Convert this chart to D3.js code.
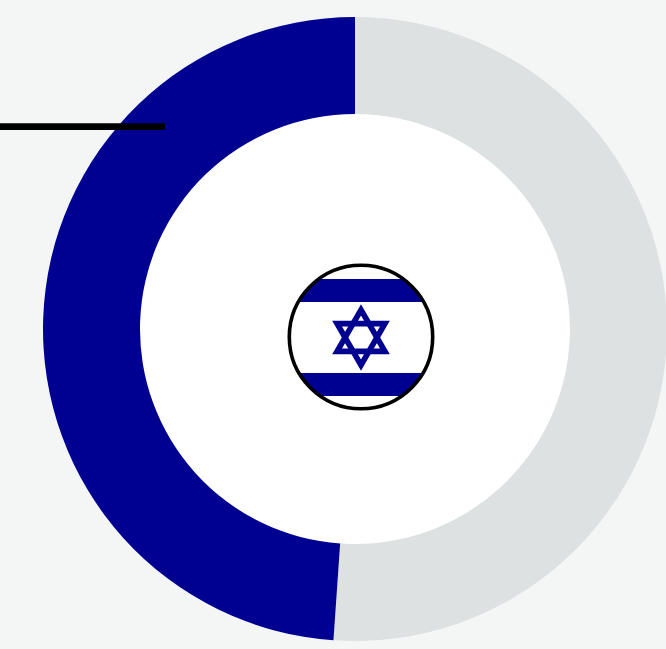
<!DOCTYPE html>
<html>
<head>
<meta charset="utf-8">
<script src="https://cdnjs.cloudflare.com/ajax/libs/d3/7.8.5/d3.min.js"></script>
<style>
  html, body { margin: 0; padding: 0; background: #f4f6f6; overflow: hidden; }
  svg { display: block; }
</style>
</head>
<body>
<svg id="chart" width="666" height="649"></svg>
<script>
// Share of the ring held by each side
const categories = ["Other", "Israel"];
const shares = [51.1, 48.9];
const sliceColors = ["#dee1e2", "#000091"];

const width = 666, height = 649;
const cx = 355, cy = 329, outerRadius = 312, innerRadius = 215;
const flagBlue = "#000091";

const svg = d3.select("#chart");

svg.append("rect")
  .attr("width", width).attr("height", height)
  .attr("fill", "#f4f6f6");

// White disc behind the hole of the ring
svg.append("circle")
  .attr("cx", cx).attr("cy", cy).attr("r", innerRadius)
  .attr("fill", "#ffffff");

const pie = d3.pie().sort(null);
const arc = d3.arc().innerRadius(innerRadius).outerRadius(outerRadius);
const color = d3.scaleOrdinal(categories, sliceColors);

svg.append("g")
  .attr("transform", `translate(${cx},${cy})`)
  .selectAll("path")
  .data(pie(shares))
  .join("path")
  .attr("d", arc)
  .attr("fill", (d, i) => color(categories[i]));

// Leader line running in from the left edge
svg.append("line")
  .attr("x1", 0).attr("x2", 165)
  .attr("y1", 126.6).attr("y2", 126.6)
  .attr("stroke", "#000000")
  .attr("stroke-width", 6.8);

// Round flag badge in the middle of the ring
const fx = 361, fy = 337, fr = 71.7;
const defs = svg.append("defs");
defs.append("clipPath").attr("id", "flag-clip")
  .append("circle").attr("cx", fx).attr("cy", fy).attr("r", fr);

const flag = svg.append("g");
flag.append("circle")
  .attr("cx", fx).attr("cy", fy).attr("r", fr)
  .attr("fill", "#ffffff");

const stripes = flag.append("g").attr("clip-path", "url(#flag-clip)");
[[-58, -35], [36, 59]].forEach(([top, bottom]) => {
  stripes.append("rect")
    .attr("x", fx - fr).attr("width", fr * 2)
    .attr("y", fy + top).attr("height", bottom - top)
    .attr("fill", flagBlue);
});

// Star of David from two overlapping triangles
const starRadius = 27.6;
const triangle = (rotation) => d3.range(3).map(i => {
  const a = rotation + i * 2 * Math.PI / 3;
  return [fx + starRadius * Math.sin(a), fy + 0.5 - starRadius * Math.cos(a)];
});
[0, Math.PI].forEach(rotation => {
  flag.append("polygon")
    .attr("points", triangle(rotation).map(p => p.join(",")).join(" "))
    .attr("fill", "none")
    .attr("stroke", flagBlue)
    .attr("stroke-width", 5.7)
    .attr("stroke-linejoin", "miter");
});

flag.append("circle")
  .attr("cx", fx).attr("cy", fy).attr("r", fr)
  .attr("fill", "none")
  .attr("stroke", "#000000")
  .attr("stroke-width", 3.6);
</script>
</body>
</html>
